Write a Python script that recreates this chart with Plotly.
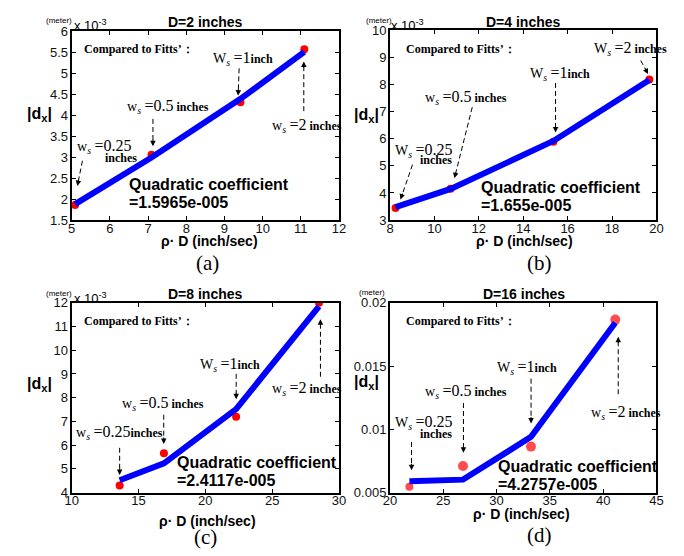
import plotly.graph_objects as go
import math

W, H = 684, 556

# ---------------- data ----------------
x_a = [5.09, 7.09, 9.42, 11.09]
dots_a = [1.86, 3.06, 4.31, 5.57]          # x 10^-3 m
fit_a = [1.88, 2.99, 4.39, 5.51]

x_b = [8.25, 10.73, 15.36, 19.68]
dots_b = [3.45, 4.16, 5.89, 8.19]
fit_b = [3.48, 4.15, 5.92, 8.17]

x_c = [13.59, 16.9, 22.3, 28.5]
dots_c = [4.30, 5.66, 7.20, 12.0]
fit_c = [4.52, 5.23, 7.52, 11.85]

x_d = [21.82, 26.85, 33.23, 41.14]
dots_d = [0.00546, 0.0071, 0.00863, 0.01867]
fit_d = [0.0059, 0.00602, 0.0094, 0.01842]

panels = ["(a)", "(b)", "(c)", "(d)"]
titles = ["D=2 inches", "D=4 inches", "D=8 inches", "D=16 inches"]
coefs = ["=1.5965e-005", "=1.655e-005", "=2.4117e-005", "=4.2757e-005"]

xticks_a = [5, 6, 7, 8, 9, 10, 11, 12]
yticks_a = [1.5, 2, 2.5, 3, 3.5, 4, 4.5, 5, 5.5, 6]
xticks_b = [8, 10, 12, 14, 16, 18, 20]
yticks_b = [3, 4, 5, 6, 7, 8, 9, 10]
xticks_c = [10, 15, 20, 25, 30]
yticks_c = [4, 5, 6, 7, 8, 9, 10, 11, 12]
xticks_d = [20, 25, 30, 35, 40, 45]
yticks_d = [0.005, 0.01, 0.015, 0.02]
yticklabels_d = ["0.005", "0.01", "0.015", "0.02"]

# ---------------- layout geometry (pixels) ----------------
boxes = [  # x0, x1, ytop, ybottom
    (66, 339, 25, 219),
    (391, 663, 24, 219),
    (66, 339, 304, 499),
    (391, 663, 304, 499),
]

def px(x):
    return x / W

def py(y):
    return 1 - y / H

fig = go.Figure()

series = [
    (x_a, dots_a, fit_a, 8),
    (x_b, dots_b, fit_b, 8),
    (x_c, dots_c, fit_c, 8),
    (x_d, dots_d, fit_d, [8, 10, 10, 10]),
]
for i, (xs, ds, fs, msize) in enumerate(series):
    ax = "x" if i == 0 else f"x{i+1}"
    ay = "y" if i == 0 else f"y{i+1}"
    fig.add_trace(go.Scatter(x=xs, y=ds, mode="markers", xaxis=ax, yaxis=ay,
                             marker=dict(color="#ff0000", size=msize, line=dict(width=0)),
                             showlegend=False, hoverinfo="skip"))
    fig.add_trace(go.Scatter(x=xs, y=fs, mode="lines", xaxis=ax, yaxis=ay,
                             line=dict(color="#0000ff", width=6),
                             showlegend=False, hoverinfo="skip"))

ranges = [
    ([5, 12], [1.5, 6], xticks_a, yticks_a, None),
    ([8, 20], [3, 10], xticks_b, yticks_b, None),
    ([10, 30], [4, 12], xticks_c, yticks_c, None),
    ([20, 45], [0.005, 0.02], xticks_d, yticks_d, yticklabels_d),
]

tickfont = dict(family="Arial, Liberation Sans", size=13, color="#111")
layout = dict(width=W, height=H, margin=dict(l=0, r=0, t=0, b=0), autosize=False,
              paper_bgcolor="white", plot_bgcolor="white", showlegend=False)
for i, (xr, yr, xt, yt, ytl) in enumerate(ranges):
    x0, x1, yt0, yb0 = boxes[i]
    sfx = "" if i == 0 else str(i + 1)
    common = dict(showline=True, linecolor="black", linewidth=2, mirror="ticks",
                  ticks="inside", ticklen=4, tickwidth=1.2, tickcolor="black",
                  showgrid=False, zeroline=False, tickfont=tickfont, fixedrange=True)
    layout["xaxis" + sfx] = dict(domain=[px(x0), px(x1)], range=xr, tickvals=xt,
                                 anchor="y" + sfx, ticklabelstandoff=-5, **common)
    ydict = dict(domain=[py(yb0), py(yt0)], range=yr, tickvals=yt,
                 anchor="x" + sfx, ticklabelstandoff=-1, **common)
    if ytl:
        ydict["ticktext"] = ytl
    layout["yaxis" + sfx] = ydict
fig.update_layout(**layout)

ann = []
shapes = []

def txt(x, y, s, size, family="Arial, Liberation Sans", xanchor="left", yanchor="middle", color="black"):
    ann.append(dict(x=px(x), y=py(y), xref="paper", yref="paper", text=s, showarrow=False,
                    xanchor=xanchor, yanchor=yanchor, font=dict(size=size, family=family, color=color)))

def arrow(x0, y0, x1, y1):
    L = math.hypot(x1 - x0, y1 - y0)
    ux, uy = (x0 - x1) / L, (y0 - y1) / L
    hx, hy = x1 - ux * 1.0, y1 - uy * 1.0
    shapes.append(dict(type="line", xref="paper", yref="paper", x0=px(x0), y0=py(y0),
                       x1=px(x1 + ux * 5), y1=py(y1 + uy * 5),
                       line=dict(color="black", width=1, dash="5px,3px")))
    ann.append(dict(x=px(hx), y=py(hy), xref="paper", yref="paper", text="", showarrow=True,
                    ax=ux * 8, ay=uy * 8, arrowhead=2, arrowsize=1.1, arrowwidth=1,
                    arrowcolor="black", standoff=0, startstandoff=0))

SERIF = "Liberation Serif, Times New Roman"

def ws(val, unit=" inches", W_=False):
    w = "W" if W_ else "w"
    s = (f"<span style='font-size:14px'>{w}</span><sub><i>s</i></sub>"
         f" <span style='font-size:16px'>={val}</span>")
    if unit:
        s += f"<span style='font-size:12px'><b>{unit}</b></span>"
    return s

centers = [(202.5, 15), (527, 15), (203, 295), (528, 295)]
for i in range(4):
    cx, cy = centers[i]
    txt(cx, cy, f"<b>{titles[i]}</b>", 14, xanchor="center")

meters = [(38, 14), (364, 14), (38, 294), (357, 293)]
for (mx, my) in meters:
    txt(mx, my, "(meter)", 8)
for (mx, my) in [(66, 19), (390, 19), (66, 299)]:
    txt(mx, my, "x 10<sup>-3</sup>", 13)

for (cx, cy) in [(33, 110), (367, 112), (33, 388), (367, 386)]:
    txt(cx, cy, "<b>|d<sub>x</sub>|</b>", 16, xanchor="center")
for (cx, cy) in [(207, 240), (528, 240), (205, 528), (525, 521)]:
    txt(cx, cy, "<b>ρ· D (inch/sec)</b>", 14, xanchor="center")
for i, (cx, cy) in enumerate([(205, 263), (544, 263), (203, 545), (544, 543)]):
    txt(cx, cy, panels[i], 21, family=SERIF, xanchor="center")
for (cx, cy) in [(77, 43), (405, 43), (77, 323), (405, 323)]:
    txt(cx, cy, "<b>Compared to Fitts’：</b>", 12, family=SERIF)
for i, (cx, cy) in enumerate([(122, 182), (482, 185), (172, 468), (499, 472)]):
    txt(cx, cy, "<b>Quadratic coefficient</b>", 16)
    txt(cx, cy + 19, f"<b>{coefs[i]}</b>", 16)

# ---- w_s labels ----
# (a)
txt(69, 143, ws("0.25", ""), 14, family=SERIF)
txt(98, 155, "<b>inches</b>", 12, family=SERIF)
txt(120, 102, ws("0.5"), 14, family=SERIF)
txt(208, 53, ws("1", "inch", True), 14, family=SERIF)
txt(268, 122, ws("2"), 14, family=SERIF)
# (b)
txt(597, 43, ws("2", " inches", True), 14, family=SERIF)
txt(532, 68, ws("1", "inch", True), 14, family=SERIF)
txt(425, 93, ws("0.5"), 14, family=SERIF)
txt(394, 147, ws("0.25", "", True), 14, family=SERIF)
txt(420, 157, "<b>inches</b>", 12, family=SERIF)
# (c)
txt(195, 367, ws("1", "inch", True), 14, family=SERIF)
txt(269, 392, ws("2"), 14, family=SERIF)
txt(115, 408, ws("0.5"), 14, family=SERIF)
txt(68, 437, ws("0.25", "inches"), 14, family=SERIF)
# (d)
txt(498, 370, ws("1", "inch", True), 14, family=SERIF)
txt(425, 395, ws("0.5"), 14, family=SERIF)
txt(394, 427, ws("0.25", "", True), 14, family=SERIF)
txt(420, 439, "<b>inches</b>", 12, family=SERIF)
txt(594, 417, ws("2"), 14, family=SERIF)

# ---- arrows ----
for a in [
    (77, 158, 72, 183), (149, 115, 149, 142), (237, 63, 236, 90), (303, 107, 303, 57),
    (647, 55, 654, 68), (560, 78, 560, 128), (475, 103, 457, 175), (414, 162, 402, 197),
    (234, 377, 234, 402), (320, 380, 320, 322), (160, 419, 160, 448), (115, 453, 115, 480),
    (535, 382, 535, 427), (466, 407, 466, 457), (413, 447, 413, 475), (624, 398, 624, 340),
]:
    arrow(*a)

fig.update_layout(annotations=ann, shapes=shapes)
fig.write_html("out.html")
